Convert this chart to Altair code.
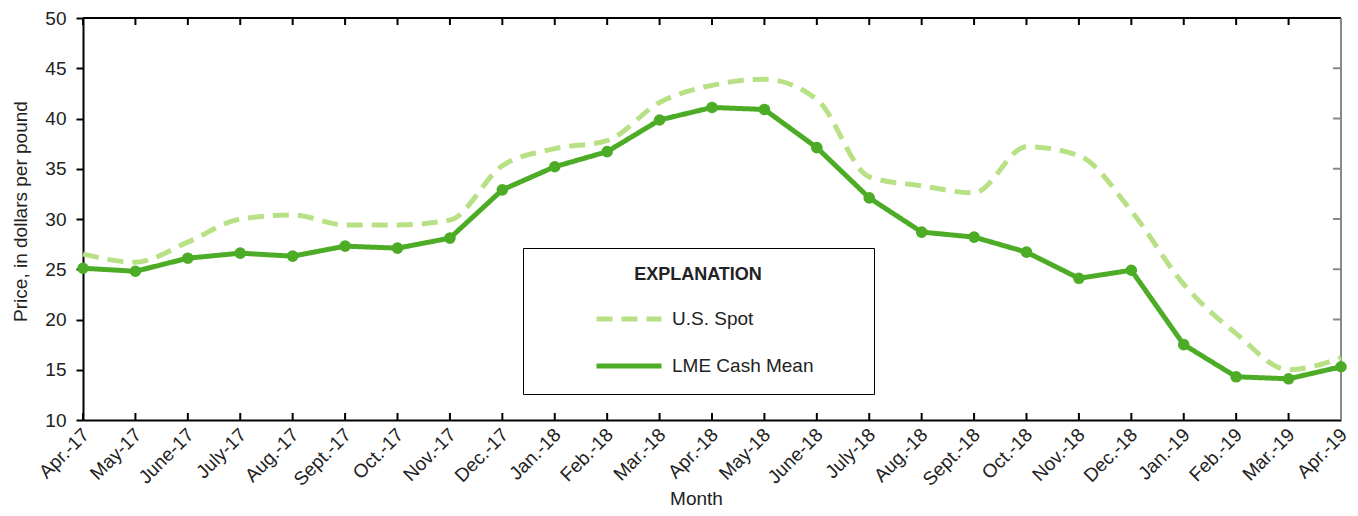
import altair as alt
import pandas as pd

months = ["Apr.-17", "May-17", "June-17", "July-17", "Aug.-17", "Sept.-17", "Oct.-17", "Nov.-17",
          "Dec.-17", "Jan.-18", "Feb.-18", "Mar.-18", "Apr.-18", "May-18", "June-18", "July-18",
          "Aug.-18", "Sept.-18", "Oct.-18", "Nov.-18", "Dec.-18", "Jan.-19", "Feb.-19", "Mar.-19", "Apr.-19"]
us_spot = [26.5, 25.7, 27.7, 30.0, 30.4, 29.4, 29.4, 29.9, 35.3, 37.0, 37.8, 41.6, 43.3, 43.9,
           41.9, 34.2, 33.3, 32.6, 37.2, 36.3, 30.8, 23.5, 18.6, 15.0, 16.2]
lme_cash = [25.1, 24.8, 26.1, 26.6, 26.3, 27.3, 27.1, 28.1, 32.9, 35.2, 36.7, 39.85, 41.1, 40.9,
            37.1, 32.1, 28.7, 28.2, 26.7, 24.1, 24.9, 17.5, 14.3, 14.1, 15.3]
series_names = ["U.S. Spot", "LME Cash Mean"]
series_colors = ["#b8e186", "#4dac26"]
y_ticks = [10, 15, 20, 25, 30, 35, 40, 45, 50]

FONT = "Liberation Sans, Arial, sans-serif"
TXT = "#222222"
BLANK = "\u2800"

df = pd.DataFrame({
    "Month": months * 2,
    "idx": list(range(len(months))) * 2,
    "Price": us_spot + lme_cash,
    "Series": [series_names[0]] * len(months) + [series_names[1]] * len(months),
})
tick_df = pd.DataFrame({"Month": months})
ytick_df = pd.DataFrame({"y": y_ticks[1:-1]})

x_enc = alt.X("Month:N", sort=months, scale=alt.Scale(type="point", padding=0),
              axis=alt.Axis(labelAngle=-45, labelAlign="right", labelBaseline="top",
                            ticks=False, tickSize=0, labelPadding=5, labelOffset=-4, title="Month",
                            titleX=613, titleY=69, titleBaseline="top", grid=False,
                            domainColor="black", domainWidth=2))
y_enc = alt.Y("Price:Q", scale=alt.Scale(domain=[10, 50], nice=False, zero=False),
              axis=alt.Axis(values=y_ticks, tickSize=7, tickWidth=2, tickColor="black",
                            labelPadding=10, title="Price, in dollars per pound", titlePadding=14,
                            titleY=193, grid=False, domainColor="black", domainWidth=2))

legend = alt.Legend(title="EXPLANATION", orient="none", legendX=440, legendY=230,
                    symbolType="stroke", symbolSize=4225, symbolStrokeWidth=5, symbolOffset=53,
                    labelOffset=8, padding=18, titleAnchor="middle", titleFontSize=18,
                    titleFontWeight="bold", titleFont=FONT, labelFont=FONT, labelFontSize=19,
                    labelExpr="datum.label + '" + BLANK * 3 + "'", labelLimit=400,
                    rowPadding=2, titlePadding=0, strokeColor="black", fillColor="white",
                    labelColor=TXT, titleColor=TXT)
color_enc = alt.Color("Series:N", scale=alt.Scale(domain=series_names, range=series_colors),
                      sort=series_names, legend=legend)
dash_enc = alt.StrokeDash("Series:N", scale=alt.Scale(domain=series_names, range=[[16, 9], [1, 0]]),
                          sort=series_names, legend=legend)

base = alt.Chart(df)
us_line = base.transform_filter(alt.datum.Series == series_names[0]).mark_line(
    strokeWidth=5, interpolate="monotone").encode(x=x_enc, y=y_enc, color=color_enc,
                                                  strokeDash=dash_enc, order="idx:Q")
lme_line = base.transform_filter(alt.datum.Series == series_names[1]).mark_line(
    strokeWidth=5).encode(x=x_enc, y=y_enc, color=color_enc, strokeDash=dash_enc, order="idx:Q")
lme_pts = base.transform_filter(alt.datum.Series == series_names[1]).mark_circle(
    size=135, opacity=1).encode(x=x_enc, y=y_enc, color=alt.value(series_colors[1]))

ticks_chart = alt.Chart(tick_df)
top_ticks = ticks_chart.mark_rule(color="black", strokeWidth=2).encode(
    x=alt.X("Month:N", sort=months), y=alt.datum(50), y2=alt.datum(49.3))
bot_ticks = ticks_chart.mark_rule(color="black", strokeWidth=2).encode(
    x=alt.X("Month:N", sort=months), y=alt.datum(10), y2=alt.datum(10.7))
top_line = ticks_chart.mark_rule(color="black", strokeWidth=2).encode(
    x=alt.datum(months[0]), x2=alt.datum(months[-1]), y=alt.datum(50))
right_line = ticks_chart.mark_rule(color="#888888", strokeWidth=2).encode(
    x=alt.datum(months[-1]), y=alt.datum(10), y2=alt.datum(50))
right_ticks = alt.Chart(ytick_df).mark_rule(color="#888888", strokeWidth=2, x2Offset=-8).encode(
    x=alt.datum(months[-1]), x2=alt.datum(months[-1]), y="y:Q")

chart = alt.layer(top_ticks, bot_ticks, top_line, right_line, right_ticks,
                  us_line, lme_line, lme_pts).properties(
    width=1258, height=402, background="white",
    autosize=alt.AutoSizeParams(type="none"),
    padding={"left": 75, "top": 10, "right": 9, "bottom": 88},
).configure_view(stroke=None).configure_axis(
    labelFont=FONT, titleFont=FONT, labelFontSize=19, titleFontSize=19,
    labelColor=TXT, titleColor=TXT, titleFontWeight="normal"
)

chart.save("out.html", embed_options={"renderer": "svg", "actions": False})
